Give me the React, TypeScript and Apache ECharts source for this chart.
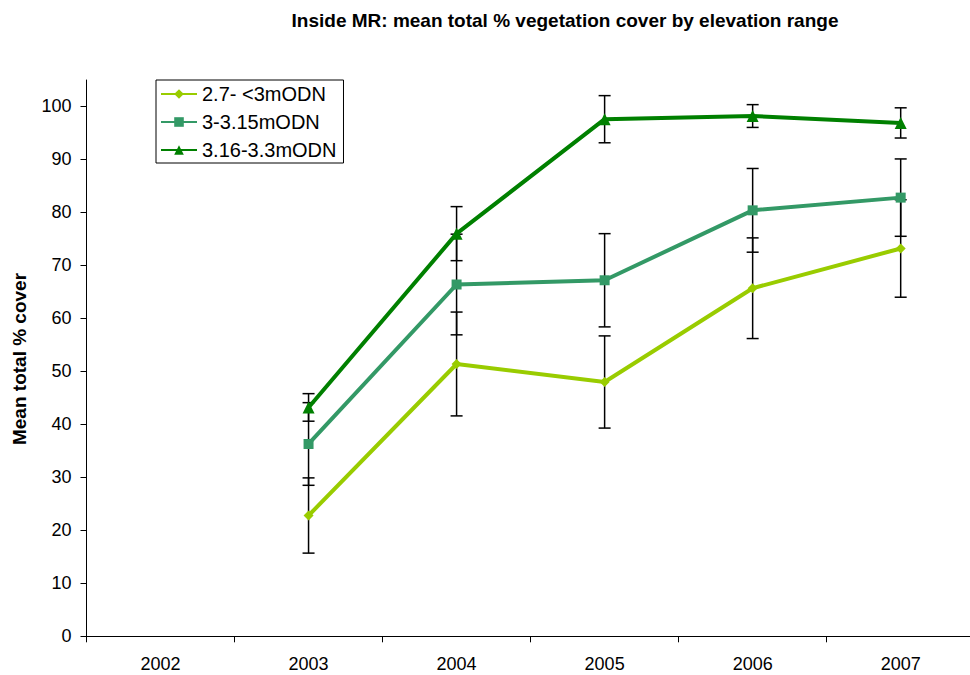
import React, { useEffect, useRef } from "react";
import * as echarts from "echarts";

const years = ["2002", "2003", "2004", "2005", "2006", "2007"];
const seriesNames = ["2.7- <3mODN", "3-3.15mODN", "3.16-3.3mODN"];
const lowValues = [null, 22.8, 51.4, 48.0, 65.7, 73.2];
const lowErr = [null, 7.1, 9.8, 8.7, 9.5, 9.2];
const midValues = [null, 36.3, 66.4, 67.2, 80.4, 82.8];
const midErr = [null, 7.8, 9.5, 8.8, 7.9, 7.3];
const highValues = [null, 43.2, 76.0, 97.6, 98.2, 96.9];
const highErr = [null, 2.6, 5.1, 4.45, 2.15, 2.85];
const yTicks = [0, 10, 20, 30, 40, 50, 60, 70, 80, 90, 100];

const colors = ["#99CC00", "#339966", "#008000"];
const symbols = ["diamond", "rect", "triangle"];
const FONT = "Liberation Sans, Arial, sans-serif";

export default function App() {
  const ref = useRef<HTMLDivElement>(null);
  useEffect(() => {
    if (!ref.current) return;
    const chart = echarts.init(ref.current, undefined, { renderer: "svg" });
    const valueSets = [lowValues, midValues, highValues];
    const errSets = [lowErr, midErr, highErr];

    const errData: any[] = [];
    valueSets.forEach((vals, s) => {
      vals.forEach((v, i) => {
        const e = errSets[s][i];
        if (v != null && e != null) errData.push([i, v - e, v + e]);
      });
    });

    const lineSeries = valueSets.map((vals, s) => ({
      name: seriesNames[s],
      type: "line",
      data: vals,
      z: 3,
      symbol: symbols[s],
      symbolSize: s === 2 ? 12 : 10,
      showAllSymbol: true,
      connectNulls: false,
      lineStyle: { color: colors[s], width: 4 },
      itemStyle: { color: colors[s] },
    }));

    chart.setOption({
      animation: false,
      textStyle: { fontFamily: FONT },
      graphic: [
        {
          type: "text",
          x: 565,
          y: 20,
          style: {
            text: "Inside MR: mean total % vegetation cover by elevation range",
            font: "bold 19px " + FONT,
            fill: "#000",
            align: "center",
            verticalAlign: "middle",
          },
        },
        {
          type: "text",
          x: 19,
          y: 359,
          rotation: Math.PI / 2,
          style: {
            text: "Mean total % cover",
            font: "bold 19px " + FONT,
            fill: "#000",
            align: "center",
            verticalAlign: "middle",
          },
        },
      ],
      legend: {
        orient: "vertical",
        left: 156,
        top: 80,
        data: seriesNames,
        borderColor: "#000",
        borderWidth: 1,
        borderRadius: 0,
        padding: [4, 7, 3, 4],
        itemWidth: 36,
        itemHeight: 12,
        itemGap: 8,
        textStyle: { fontSize: 20, lineHeight: 20, color: "#000", fontFamily: FONT },
      },
      grid: { left: 86.5, top: 80, right: 15.3, bottom: 38.7 },
      xAxis: {
        type: "category",
        data: years,
        boundaryGap: true,
        axisLine: { lineStyle: { color: "#000", width: 1 } },
        axisTick: { show: true, length: 6, lineStyle: { color: "#000" } },
        axisLabel: { color: "#000", fontSize: 18, margin: 19, fontFamily: FONT },
        splitLine: { show: false },
      },
      yAxis: {
        type: "value",
        min: 0,
        max: 105,
        interval: 10,
        axisLine: { show: true, lineStyle: { color: "#000", width: 1 } },
        axisTick: { show: true, length: 6, customValues: yTicks, lineStyle: { color: "#000" } },
        axisLabel: { color: "#000", fontSize: 18, margin: 15, customValues: yTicks, fontFamily: FONT },
        splitLine: { show: false },
      },
      series: [
        {
          type: "custom",
          z: 1,
          silent: true,
          data: errData,
          encode: { x: 0, y: [1, 2] },
          renderItem: (params: any, api: any) => {
            const x = api.value(0);
            const lo = api.coord([x, api.value(1)]);
            const hi = api.coord([x, api.value(2)]);
            const hw = 6;
            const style = { stroke: "#000", lineWidth: 1.5 };
            return {
              type: "group",
              children: [
                { type: "line", shape: { x1: lo[0], y1: lo[1], x2: hi[0], y2: hi[1] }, style },
                { type: "line", shape: { x1: lo[0] - hw, y1: lo[1], x2: lo[0] + hw, y2: lo[1] }, style },
                { type: "line", shape: { x1: hi[0] - hw, y1: hi[1], x2: hi[0] + hw, y2: hi[1] }, style },
              ],
            };
          },
        },
        ...lineSeries,
      ],
    });
    return () => chart.dispose();
  }, []);

  return (
    <div style={{ position: "fixed", left: 0, top: 0, width: 970, height: 675, overflow: "hidden", background: "#fff" }}>
      <div ref={ref} style={{ width: 990, height: 675 }} />
    </div>
  );
}
